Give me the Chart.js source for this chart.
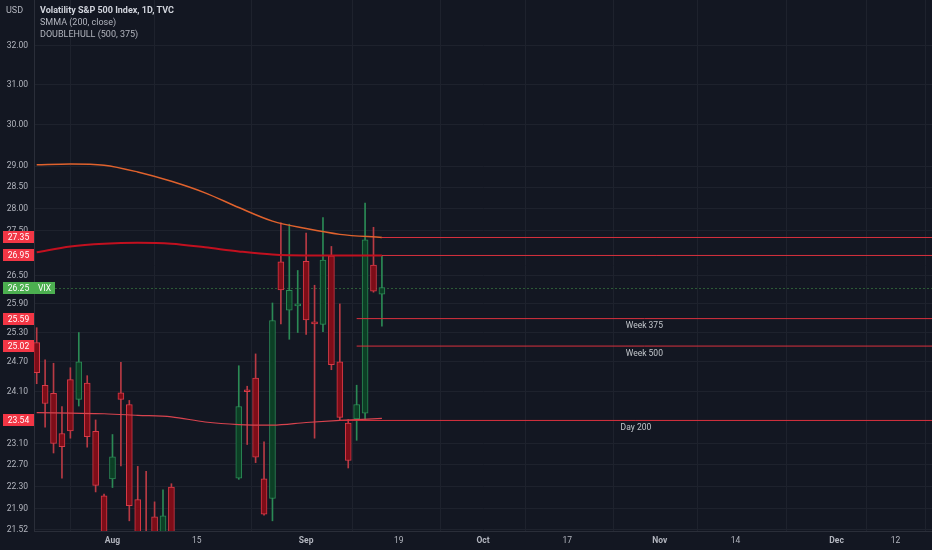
<!DOCTYPE html>
<html lang="en">
<head>
<meta charset="UTF-8">
<title>Volatility S&amp;P 500 Index, 1D, TVC</title>
<script src="https://cdn.jsdelivr.net/npm/chart.js"></script>
<style>
  html, body { margin: 0; padding: 0; background: #131722; }
  #wrap { position: relative; width: 932px; height: 550px; background: #131722; }
  .txt { position: absolute; font-family: Roboto, sans-serif; font-size: 9px; line-height: 12px; color: #b2b5be; pointer-events: none; white-space: nowrap; }
  #legend b { color: #d1d4dc; font-weight: bold; }
</style>
</head>
<body>
<div id="wrap">
  <canvas id="vix"></canvas>
  <div class="txt" style="left:6px; top:4px;">USD</div>
  <div class="txt" id="legend" style="left:40px; top:4px;">
    <b>Volatility S&amp;P 500 Index, 1D, TVC</b><br>
    SMMA (200, close)<br>
    DOUBLEHULL (500, 375)
  </div>
</div>
<script>
// daily candles, index 0 = first visible session
const opens  = [25.09, 24.23, 24.07, 23.29, 24.34, 23.95, 24.27, 23.33, 22.13, 22.44,
                24.08, 23.85, 22.06, 21.45, 21.75, 21.30, 22.29, 21.10, 20.40, 20.50,
                19.90, 19.70, 20.20, 21.10, 22.45, 24.14, 24.37, 22.44, 22.08, 26.81,
                25.77, 25.86, 26.82, 25.52, 25.47, 26.94, 24.70, 23.49, 23.57, 23.68,
                26.74, 26.11];
const highs  = [25.40, 24.74, 24.67, 23.81, 24.58, 25.30, 24.42, 23.55, 22.16, 23.27,
                24.69, 23.93, 22.67, 22.58, 22.02, 22.24, 22.35, 21.40, 21.00, 21.10,
                20.40, 20.30, 21.20, 21.40, 24.62, 24.21, 24.86, 23.13, 25.92, 27.68,
                27.65, 26.62, 27.45, 26.30, 27.80, 27.15, 25.90, 23.56, 24.23, 28.13,
                27.58, 26.94];
const lows   = [24.26, 23.41, 22.92, 22.45, 23.20, 23.82, 23.03, 22.20, 21.10, 22.28,
                22.68, 21.68, 21.20, 21.00, 21.05, 21.10, 21.00, 20.10, 19.90, 19.70,
                19.30, 19.20, 19.90, 20.30, 22.43, 23.08, 22.74, 21.78, 21.68, 25.48,
                25.16, 25.30, 25.26, 23.20, 25.32, 24.54, 23.55, 22.64, 23.16, 23.56,
                26.15, 25.43];
const closes = [24.48, 23.87, 23.10, 23.04, 23.34, 24.70, 23.23, 22.32, 21.33, 22.85,
                23.95, 21.95, 21.40, 21.15, 21.20, 21.77, 21.20, 20.30, 20.60, 19.90,
                19.60, 20.10, 21.00, 20.60, 23.81, 24.10, 22.84, 21.80, 25.55, 26.20,
                26.19, 25.90, 25.56, 25.48, 26.85, 24.64, 23.60, 22.78, 23.85, 27.30,
                26.17, 26.25];

// indicator curves, read at these session indices
const curveIdx  = [0, 4, 8, 12, 16, 20, 24, 28, 32, 36, 41];
const hull375   = [29.03, 29.05, 29.02, 28.86, 28.64, 28.37, 28.03, 27.72, 27.55, 27.42, 27.35];
const hull500   = [27.02, 27.15, 27.21, 27.23, 27.21, 27.13, 27.04, 26.97, 26.95, 26.95, 26.95];
const smma200   = [23.69, 23.68, 23.67, 23.64, 23.61, 23.51, 23.46, 23.45, 23.50, 23.54, 23.58];

// horizontal levels
const levelValues = [27.35, 26.95, 25.59, 25.02, 23.54];
const levelStart  = [41, 41, 38, 38, 36];
const levelText   = ['', '', 'Week 375', 'Week 500', 'Day 200'];
const lastPrice = 26.25;
const symbol = 'VIX';

// axis ticks
const yTicks = [32, 31, 30, 29, 28.5, 28, 27.5, 26.5, 25.9, 25.3, 24.7, 24.1, 23.1, 22.7, 22.3, 21.9, 21.52];
const xTickIdx  = [9, 19, 32, 43, 53, 63, 74, 83, 95, 102];
const xTickText = ['Aug', '15', 'Sep', '19', 'Oct', '17', 'Nov', '14', 'Dec', '12'];
const xTickBold = [true, false, true, false, true, false, true, false, true, false];

const X_MIN = -0.32, X_MAX = 106.33;
const FONT = 'Roboto, sans-serif';

const upFill = '#0c3f25', upLine = '#2b8a55';
const dnFill = '#7d0d18', dnLine = '#d83a47';
const dnWick = '#b83a44';

const isUp = opens.map((o, i) => closes[i] >= o);

const wicks = {
  label: 'wicks',
  data: highs.map((h, i) => ({ x: i, y: [lows[i], h] })),
  backgroundColor: isUp.map(u => u ? upLine : dnWick),
  borderWidth: 0,
  barThickness: 1,
  grouped: false,
  clip: 0,
  order: 3
};
const bodies = {
  label: 'bodies',
  data: opens.map((o, i) => ({ x: i, y: [Math.min(o, closes[i]), Math.max(o, closes[i])] })),
  backgroundColor: isUp.map(u => u ? upFill : dnFill),
  borderColor: isUp.map(u => u ? upLine : dnLine),
  borderWidth: 1,
  borderSkipped: false,
  barThickness: 6,
  minBarLength: 2,
  grouped: false,
  clip: 0,
  order: 2
};

function curve(values, color, width) {
  return {
    type: 'line',
    data: curveIdx.map((x, k) => ({ x: x, y: values[k] })),
    borderColor: color,
    borderWidth: width,
    pointRadius: 0,
    cubicInterpolationMode: 'monotone',
    clip: 0,
    order: 1
  };
}

const levels = levelValues.map((v, k) => ({
  type: 'line',
  data: [{ x: levelStart[k], y: v }, { x: X_MAX, y: v }],
  borderColor: '#d9313e',
  borderWidth: 1,
  pointRadius: 0,
  clip: 0,
  order: 0
}));

function tag(ctx, x, w, yPix, color, text) {
  ctx.fillStyle = color;
  ctx.fillRect(x, Math.round(yPix) - 6, w, 12);
  ctx.fillStyle = '#ffffff';
  ctx.font = '8.5px ' + FONT;
  ctx.textAlign = 'center';
  ctx.textBaseline = 'middle';
  ctx.fillText(text, x + w / 2, Math.round(yPix) + 0.5);
}

const overlay = {
  id: 'overlay',
  beforeDatasetsDraw(chart) {
    const { ctx, chartArea: a, scales: { y } } = chart;
    const py = Math.round(y.getPixelForValue(lastPrice)) + 0.5;
    ctx.save();
    ctx.strokeStyle = 'rgba(76,175,80,0.45)';
    ctx.lineWidth = 1;
    ctx.setLineDash([2, 2]);
    ctx.beginPath();
    ctx.moveTo(a.left + 21, py);
    ctx.lineTo(a.right, py);
    ctx.stroke();
    ctx.restore();
  },
  afterDatasetsDraw(chart) {
    const { ctx, chartArea: a, scales: { x, y } } = chart;
    ctx.save();
    ctx.fillStyle = '#c3c7cc';
    ctx.font = '8.5px ' + FONT;
    ctx.textAlign = 'center';
    ctx.textBaseline = 'middle';
    levelValues.forEach((v, k) => {
      if (!levelText[k]) return;
      const cx = (x.getPixelForValue(levelStart[k]) + a.right) / 2;
      ctx.fillText(levelText[k], cx, y.getPixelForValue(v) + 7.5);
    });
    ctx.restore();
  },
  afterDraw(chart) {
    const { ctx, chartArea: a, scales: { y } } = chart;
    ctx.save();
    levelValues.forEach(v => tag(ctx, 3, a.left - 3, y.getPixelForValue(v), '#f23645', v.toFixed(2)));
    const py = y.getPixelForValue(lastPrice);
    tag(ctx, 3, a.left - 3, py, '#4caf50', lastPrice.toFixed(2));
    tag(ctx, a.left, 21, py, '#4caf50', symbol);
    ctx.restore();
  }
};

new Chart(document.getElementById('vix'), {
  type: 'bar',
  data: {
    datasets: [
      ...levels,
      curve(hull375, '#e0622d', 1.5),
      curve(hull500, '#c2101f', 2),
      curve(smma200, '#d8434e', 1.2),
      bodies,
      wicks
    ]
  },
  options: {
    responsive: true,
    maintainAspectRatio: false,
    animation: false,
    events: [],
    layout: { padding: 0 },
    plugins: { legend: { display: false }, tooltip: { enabled: false } },
    scales: {
      x: {
        type: 'linear',
        min: X_MIN,
        max: X_MAX,
        offset: false,
        afterBuildTicks: s => { s.ticks = xTickIdx.map(v => ({ value: v })); },
        afterFit: s => { s.height = 19; s.paddingLeft = 0; s.paddingRight = 0; },
        grid: { color: '#1e222d', drawTicks: false },
        border: { color: '#2a2e39' },
        ticks: {
          autoSkip: false,
          maxRotation: 0,
          padding: 5,
          color: '#b2b5be',
          font: c => ({ family: FONT, size: 8.5, weight: xTickBold[c.index] ? 'bold' : 'normal' }),
          callback: (v, i) => xTickText[i]
        }
      },
      y: {
        type: 'logarithmic',
        position: 'left',
        min: 21.50,
        max: 33.23,
        afterBuildTicks: s => { s.ticks = yTicks.map(v => ({ value: v })); },
        afterFit: s => { s.width = 34; s.paddingTop = 0; s.paddingBottom = 0; },
        grid: { color: '#1e222d', drawTicks: false },
        border: { color: '#2a2e39' },
        ticks: {
          autoSkip: false,
          padding: 6,
          color: '#b2b5be',
          font: { family: FONT, size: 8.5 },
          callback: v => Number(v).toFixed(2)
        }
      }
    }
  },
  plugins: [overlay]
});
</script>
</body>
</html>
